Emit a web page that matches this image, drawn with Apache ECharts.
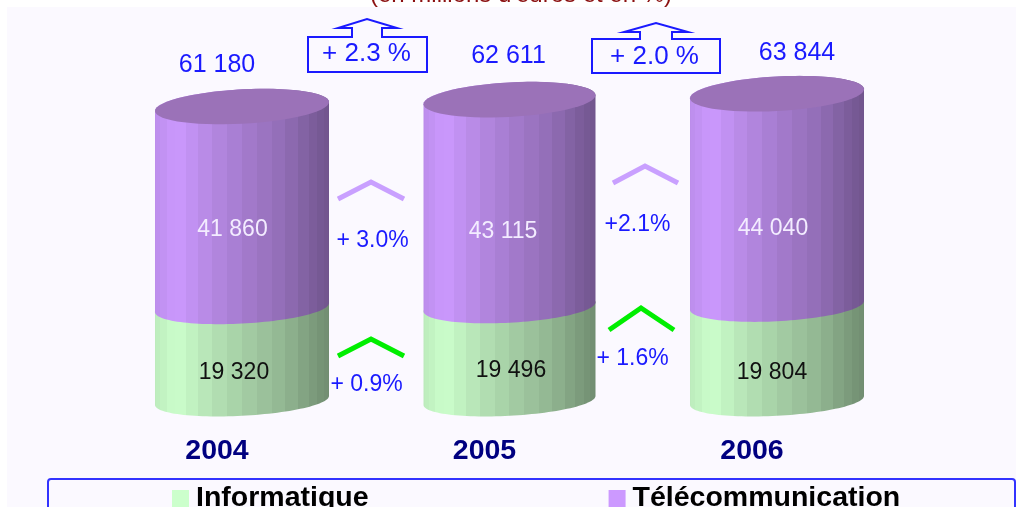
<!DOCTYPE html>
<html lang="fr">
<head>
    <meta charset="UTF-8">
    <title>Informatique et télécommunication</title>
    <script src="https://cdn.jsdelivr.net/npm/echarts@6/dist/echarts.min.js"></script>
    <style>
        html, body{ margin: 0; padding: 0; background: #fff; overflow: hidden; }
        #main{ width: 1016px; height: 507px; }
    </style>
</head>
<body>
<div id="main"></div>
<script>
    // data (millions d'euros)
    var years = ['2004', '2005', '2006'];
    var informatique = [19320, 19496, 19804];
    var telecom = [41860, 43115, 44040];
    var totals = [61180, 62611, 63844];
    var totalChange = ['+ 2.3 %', '+ 2.0 %'];
    var telecomChange = ['+ 3.0%', '+2.1%'];
    var informatiqueChange = ['+ 0.9%', '+ 1.6%'];

    var font = '"Liberation Sans", Arial, sans-serif';
    var blue = '#1a1aff';

    function fmt(n){
        var s = String(n);
        return s.slice(0, -3) + ' ' + s.slice(-3);
    }

    // light falls from the left, cut in bands like the original
    function bands(rgb){
        var anchors = [[0, .92], [.12, 1], [.3, .9], [.5, .81], [.75, .71], [.92, .6], [1, .55]];
        var n = 18, stops = [];
        function shade(p){
            for (var k = 1; k < anchors.length; k++){
                if (p <= anchors[k][0]){
                    var a = anchors[k - 1], b = anchors[k];
                    return a[1] + (b[1] - a[1]) * (p - a[0]) / (b[0] - a[0]);
                }
            }
            return .55;
        }
        for (var i = 0; i < n; i++){
            var p0 = (1 - Math.cos(Math.PI * i / n)) / 2;
            var p1 = (1 - Math.cos(Math.PI * (i + 1) / n)) / 2;
            var f = shade((p0 + p1) / 2);
            var c = 'rgb(' + rgb.map(function(v){ return Math.round(v * f); }).join(',') + ')';
            stops.push({offset: p0, color: c}, {offset: p1, color: c});
        }
        return new echarts.graphic.LinearGradient(0, 0, 1, 0, stops);
    }

    var halfWidth = [87, 86, 87];
    var tilt = 4.5;

    function ellipsePoints(cx, cy, a, b, from, to){
        var pts = [];
        for (var i = 0; i <= 60; i++){
            var t = from + (to - from) * i / 60;
            pts.push([cx + a * Math.cos(t), cy + b * Math.sin(t) - tilt * Math.cos(t)]);
        }
        return pts;
    }

    function depth(v){
        return 15.3 + 1.9 * v / 61180;
    }

    function cylinder(rgb, capColor, labels, labelX, labelY, labelColor){
        var fill = bands(rgb);
        return function(params, api){
            var i = api.value(0), low = api.value(1), high = api.value(2);
            var bottom = api.coord([i, low]), top = api.coord([i, high]);
            var a = halfWidth[i], cx = bottom[0];
            // back half of the top rim, then front half of the bottom rim
            var pts = ellipsePoints(cx, top[1], a, depth(high), Math.PI, 2 * Math.PI)
                .concat(ellipsePoints(cx, bottom[1], a, depth(low), 0, Math.PI));
            var children = [{type: 'polygon', shape: {points: pts}, style: {fill: fill}}];
            if (capColor){
                children.push({
                    type: 'polygon',
                    shape: {points: ellipsePoints(cx, top[1], a, depth(high), 0, 2 * Math.PI)},
                    style: {fill: capColor}
                });
            }
            children.push({
                type: 'text',
                style: {
                    x: labelX[i], y: labelY[i], text: labels[i], fill: labelColor,
                    font: '23px ' + font, textAlign: 'center', textVerticalAlign: 'middle'
                }
            });
            return {type: 'group', children: children};
        };
    }

    function text(str, x, y, size, color){
        return {
            type: 'text', x: x, y: y,
            style: {text: str, fill: color, font: size + 'px ' + font, align: 'center', verticalAlign: 'middle'}
        };
    }
    function chevron(points, color){
        return {
            type: 'polyline', shape: {points: points},
            style: {stroke: color, lineWidth: 5, fill: null}
        };
    }
    function callout(points){
        return {
            type: 'polygon', shape: {points: points},
            style: {stroke: blue, lineWidth: 2, fill: null}
        };
    }

    var chart = echarts.init(document.getElementById('main'));
    chart.setOption({
        animation: false,
        title: {
            text: "(en millions d'euros et en %)",
            left: 370,
            top: -17,
            padding: 0,
            textStyle: {color: '#8b1010', fontFamily: font, fontSize: 24, fontWeight: 'normal'}
        },
        legend: {
            left: 172,
            top: 484,
            padding: 0,
            itemGap: 240,
            itemWidth: 17,
            itemHeight: 17,
            icon: 'rect',
            data: ['Informatique', 'Télécommunication'],
            textStyle: {color: '#000', fontFamily: font, fontSize: 28.5, fontWeight: 'bold', padding: [0, 0, 8, 2]}
        },
        grid: {left: 108.25, width: 802.5, top: 64.15, height: 336.35},
        xAxis: {
            type: 'category',
            data: years,
            axisLine: {show: false},
            axisTick: {show: false},
            axisLabel: {
                margin: 36,
                padding: [0, 50, 0, 0],
                color: '#000080',
                fontFamily: font,
                fontSize: 28.5,
                fontWeight: 'bold'
            }
        },
        yAxis: {type: 'value', min: 0, max: 70000, show: false},
        series: [{
            name: 'Informatique',
            type: 'custom',
            itemStyle: {color: '#ccffcc'},
            encode: {x: 0, y: 2},
            clip: false,
            data: years.map(function(y, i){ return [i, 0, informatique[i]]; }),
            renderItem: cylinder([204, 255, 204], null, informatique.map(fmt), [234, 511, 772], [373, 371, 373], '#111')
        }, {
            name: 'Télécommunication',
            type: 'custom',
            itemStyle: {color: '#cc99ff'},
            encode: {x: 0, y: 2},
            clip: false,
            data: years.map(function(y, i){ return [i, informatique[i], totals[i]]; }),
            renderItem: cylinder([204, 153, 255], '#9b72b8', telecom.map(fmt), [232.5, 503, 773], [230, 232, 229], '#f3ecff')
        }],
        graphic: [
            {type: 'rect', z: -2, shape: {x: 7, y: 7, width: 1009, height: 500}, style: {fill: '#fbf9ff'}},
            {type: 'rect', z: -1, shape: {x: 48, y: 479, width: 967, height: 60, r: 3}, style: {fill: '#fbf9ff', stroke: '#3333ff', lineWidth: 2}},

            text(fmt(totals[0]), 217, 65, 25, blue),
            text(fmt(totals[1]), 508.5, 56, 25, blue),
            text(fmt(totals[2]), 797, 53, 25, blue),

            callout([[352, 37], [352, 28], [338, 28], [367, 19], [397, 28], [382, 28], [382, 37], [427, 37], [427, 72], [308, 72], [308, 37]]),
            callout([[640, 39], [640, 32], [624, 32], [656, 23], [688, 32], [672, 32], [672, 39], [720, 39], [720, 73], [592, 73], [592, 39]]),
            text(totalChange[0], 366.5, 54, 26, blue),
            text(totalChange[1], 654.5, 57, 26, blue),

            chevron([[338, 199], [371, 182], [404, 199]], '#c9a0ff'),
            chevron([[613, 183], [645, 166], [678, 183]], '#c9a0ff'),
            chevron([[338, 356], [371, 339], [404, 356]], '#00ee00'),
            chevron([[609, 330], [641, 308], [674, 330]], '#00ee00'),

            text(telecomChange[0], 372.5, 241, 23, blue),
            text(telecomChange[1], 637.5, 225, 23, blue),
            text(informatiqueChange[0], 366.5, 385, 23, blue),
            text(informatiqueChange[1], 632.5, 359, 23, blue)
        ]
    });
</script>
</body>
</html>
